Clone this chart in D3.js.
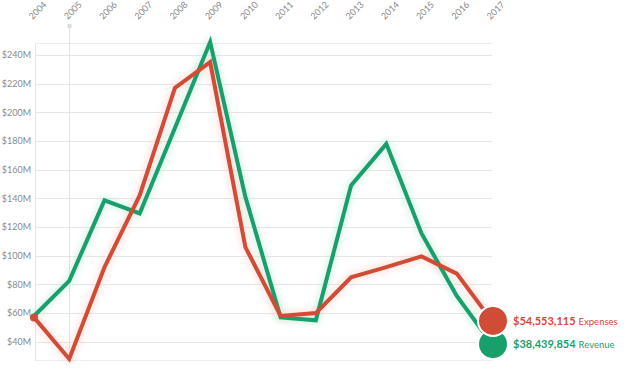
<!DOCTYPE html>
<html><head><meta charset="utf-8">
<script src="https://cdn.jsdelivr.net/npm/d3@7"></script>
<style>
body{margin:0;background:#fff;}
svg{display:block;font-family:Lato,"Open Sans",sans-serif;}
</style></head>
<body><svg id="c" width="628" height="382"></svg>
<script>
const years = [2004,2005,2006,2007,2008,2009,2010,2011,2012,2013,2014,2015,2016,2017];
const revenue = [58,82.5,138.6,129.5,189,249,141,57,55,149,178,115.5,72,38.439854];
const expenses = [57,28,92,142,217,235,106,58,60,85,92,99.5,87.5,54.553115];
const yTicks = [40,60,80,100,120,140,160,180,200,220,240];
const seriesNames = ["Revenue","Expenses"];
const endLabels = ["$38,439,854","$54,553,115"];

const colors = {Revenue:"#189f6c", Expenses:"#d04c37"};
const halo = {Revenue:"#a8e6cc", Expenses:"#f7c0b6"};

const svg = d3.select("#c");
const x = d3.scalePoint().domain(years).range([34,492]);
const all = revenue.concat(expenses);
const y = d3.scaleLinear().domain(d3.extent(all)).range([359,42]);

const defs = svg.append("defs");
defs.append("filter").attr("id","blur").attr("x","-10%").attr("y","-10%").attr("width","120%").attr("height","120%")
  .append("feGaussianBlur").attr("stdDeviation",2.5);

// grid
const gTop = 43, gBot = 360;
svg.append("g").selectAll("line").data(yTicks).join("line")
  .attr("x1",35).attr("x2",492).attr("y1",d=>Math.round(y(d))+0.5).attr("y2",d=>Math.round(y(d))+0.5)
  .attr("stroke","#e6e6e6");
svg.append("line").attr("x1",35).attr("x2",492).attr("y1",gTop+0.5).attr("y2",gTop+0.5).attr("stroke","#ececec");
svg.append("line").attr("x1",35).attr("x2",492).attr("y1",gBot+0.5).attr("y2",gBot+0.5).attr("stroke","#ececec");
svg.append("line").attr("x1",35.5).attr("x2",35.5).attr("y1",gTop).attr("y2",gBot).attr("stroke","#e6e6e6");

// hover line at 2005
const hx = Math.round(x(2005))+0.5;
svg.append("line").attr("x1",hx).attr("x2",hx).attr("y1",26).attr("y2",gBot).attr("stroke","#e2e2e2");
svg.append("rect").attr("x",hx-2).attr("y",24).attr("width",4).attr("height",4).attr("fill","#dcdcdc");

// y axis labels
const yAxis = d3.axisLeft(y).tickValues(yTicks).tickSize(0).tickPadding(0).tickFormat(d=>"$"+d+"M");
const ya = svg.append("g").attr("transform","translate(31,0)").call(yAxis);
ya.select(".domain").remove();
ya.selectAll("text").attr("fill","#8a8a8a").attr("font-size","9px").attr("font-family","Lato,'Open Sans',sans-serif");

// x labels
const xAxis = d3.axisTop(x).tickSize(0).tickPadding(0).tickFormat(d3.format("d"));
const xa = svg.append("g").attr("transform","translate(0,20)").call(xAxis);
xa.select(".domain").remove();
xa.selectAll("text").attr("fill","#8a8a8a").attr("font-size","9px").attr("font-family","Lato,'Open Sans',sans-serif")
  .attr("text-anchor","start").attr("dy",0).attr("transform","translate(-2,0) rotate(-45)");

const data = {Revenue:revenue, Expenses:expenses};
const line = d3.line().x((d,i)=>x(years[i])).y(d=>y(d));

seriesNames.forEach(name=>{
  svg.append("path").datum(data[name]).attr("d",line).attr("fill","none")
    .attr("stroke",halo[name]).attr("stroke-width",11).attr("stroke-opacity",0.3)
    .attr("stroke-linejoin","round").attr("filter","url(#blur)");
});
seriesNames.forEach(name=>{
  svg.append("path").datum(data[name]).attr("d",line).attr("fill","none")
    .attr("stroke",colors[name]).attr("stroke-width",4).attr("stroke-linejoin","miter");
});
// start dot
svg.append("circle").attr("cx",x(years[0])).attr("cy",y(expenses[0])).attr("r",4).attr("fill",colors.Expenses);

// end circles
seriesNames.forEach((name,k)=>{
  const v = data[name][data[name].length-1];
  svg.append("circle").attr("cx",x(years[years.length-1])+1).attr("cy",y(v)).attr("r",15)
    .attr("fill",colors[name]).attr("stroke","#fff").attr("stroke-width",2);
});
seriesNames.forEach((name,k)=>{
  const v = data[name][data[name].length-1];
  const t = svg.append("text").attr("x",513).attr("y",y(v)+4).attr("fill",colors[name]);
  t.append("tspan").attr("font-weight","bold").attr("font-size","11px").text(endLabels[k]);
  t.append("tspan").attr("font-size","9.5px").attr("dx",3).text(name);
});
</script></body></html>
